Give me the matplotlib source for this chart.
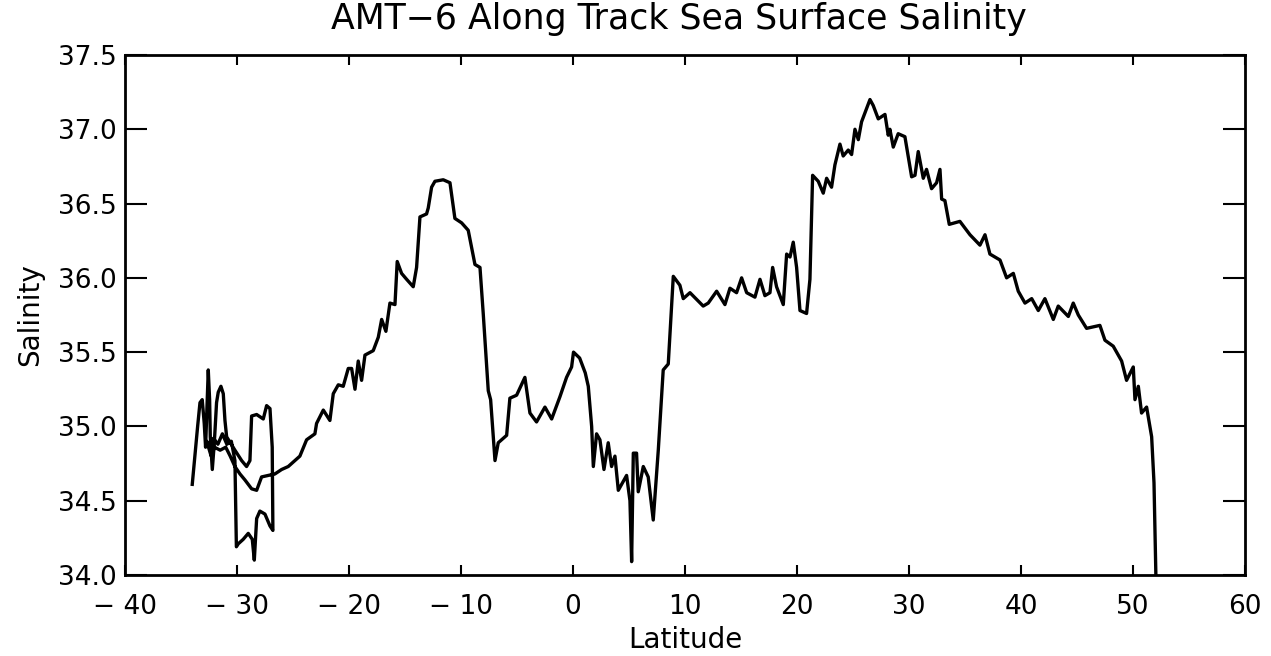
import matplotlib
matplotlib.use("Agg")
import matplotlib.pyplot as plt

# Along-track sea surface salinity, AMT-6 (ship track order)
latitude = [
    -33.99, -33.51, -33.30, -33.10, -32.92, -32.80, -32.68, -32.56, -32.44, -32.38,
    -32.20, -32.02, -31.82, -31.67, -31.43, -31.22, -31.07, -30.92,
    -30.18, -29.58, -29.14, -28.84, -28.69, -28.24, -27.65, -27.35, -27.05, -26.85, -26.79,
    -27.05, -27.50, -27.95, -28.24, -28.45, -28.63, -28.99, -29.44, -29.88, -30.05,
    -30.18, -30.50, -30.90, -31.30, -31.70, -32.10, -32.40, -32.70,
    -32.30, -32.00, -31.50, -31.00, -30.60, -30.18,
    -29.73, -29.29, -28.69, -28.24, -27.80, -27.20, -26.61, -26.01, -25.42, -24.97,
    -24.38, -23.78, -23.04, -22.89, -22.29, -21.70, -21.40, -20.95, -20.51, -20.06,
    -19.76, -19.46, -19.17, -18.87, -18.57, -17.83, -17.38, -17.08, -16.70, -16.34,
    -15.89, -15.69, -15.30, -14.85, -14.26, -13.96, -13.66, -13.07, -12.92, -12.62,
    -12.32, -11.58, -10.98, -10.54, -9.94, -9.35, -8.75, -8.30, -8.01, -7.56,
    -7.35, -6.96, -6.67, -5.92, -5.63, -5.03, -4.29, -3.84, -3.25, -2.50,
    -1.90, -1.16, -0.57, -0.12, 0.05, 0.60, 1.10, 1.37, 1.67, 1.82,
    2.11, 2.41, 2.77, 3.15, 3.45, 3.75, 4.05, 4.79, 5.09, 5.24,
    5.39, 5.68, 5.83, 6.28, 6.72, 7.17, 7.62, 8.06, 8.51, 8.96,
    9.55, 9.85, 10.45, 11.63, 12.08, 12.83, 13.57, 14.02, 14.61, 15.06,
    15.51, 16.25, 16.70, 17.14, 17.59, 17.83, 18.18, 18.78, 19.08, 19.38,
    19.67, 19.97, 20.27, 20.86, 21.16, 21.40, 21.90, 22.35, 22.65, 23.09,
    23.39, 23.84, 24.13, 24.58, 24.88, 25.18, 25.48, 25.77, 26.52, 26.81,
    27.26, 27.86, 28.15, 28.30, 28.60, 29.04, 29.64, 30.24, 30.54, 30.83,
    31.28, 31.57, 32.02, 32.47, 32.77, 32.92, 33.21, 33.60, 34.55, 35.45,
    36.34, 36.79, 37.23, 38.13, 38.72, 39.32, 39.76, 40.36, 40.96, 41.55,
    42.14, 42.89, 43.33, 44.23, 44.67, 45.12, 45.86, 47.05, 47.50, 48.24,
    48.99, 49.43, 50.03, 50.18, 50.48, 50.77, 51.22, 51.67, 51.88, 52.05,
]
salinity = [
    34.61, 35.00, 35.16, 35.18, 35.02, 34.86, 35.11, 35.38, 35.18, 34.93,
    34.71, 34.89, 35.16, 35.23, 35.27, 35.22, 35.04, 34.93,
    34.84, 34.77, 34.73, 34.77, 35.07, 35.08, 35.05, 35.14, 35.12, 34.86, 34.30,
    34.33, 34.41, 34.43, 34.38, 34.10, 34.24, 34.28, 34.24, 34.21, 34.19,
    34.77, 34.90, 34.88, 34.95, 34.88, 34.92, 34.85, 34.90,
    34.80, 34.86, 34.84, 34.86, 34.80, 34.73,
    34.68, 34.64, 34.58, 34.57, 34.66, 34.67, 34.68, 34.71, 34.73, 34.76,
    34.80, 34.91, 34.95, 35.02, 35.11, 35.04, 35.22, 35.28, 35.27, 35.39,
    35.39, 35.25, 35.44, 35.31, 35.48, 35.51, 35.60, 35.72, 35.64, 35.83,
    35.82, 36.11, 36.03, 35.99, 35.94, 36.07, 36.41, 36.43, 36.47, 36.61,
    36.65, 36.66, 36.64, 36.40, 36.37, 36.32, 36.09, 36.07, 35.76, 35.24,
    35.18, 34.77, 34.89, 34.94, 35.19, 35.21, 35.33, 35.09, 35.03, 35.13,
    35.05, 35.20, 35.33, 35.40, 35.50, 35.46, 35.36, 35.27, 35.00, 34.73,
    34.95, 34.91, 34.71, 34.89, 34.73, 34.80, 34.57, 34.67, 34.50, 34.09,
    34.82, 34.82, 34.56, 34.73, 34.66, 34.37, 34.84, 35.38, 35.42, 36.01,
    35.95, 35.86, 35.90, 35.81, 35.83, 35.91, 35.82, 35.93, 35.90, 36.00,
    35.90, 35.87, 35.99, 35.88, 35.90, 36.07, 35.94, 35.82, 36.16, 36.14,
    36.24, 36.07, 35.78, 35.76, 35.99, 36.69, 36.65, 36.57, 36.67, 36.61,
    36.76, 36.90, 36.82, 36.86, 36.83, 37.00, 36.93, 37.05, 37.20, 37.16,
    37.07, 37.10, 36.96, 37.00, 36.88, 36.97, 36.95, 36.68, 36.69, 36.85,
    36.67, 36.73, 36.60, 36.64, 36.73, 36.53, 36.52, 36.36, 36.38, 36.29,
    36.22, 36.29, 36.16, 36.12, 36.00, 36.03, 35.91, 35.83, 35.86, 35.78,
    35.86, 35.72, 35.81, 35.74, 35.83, 35.75, 35.66, 35.68, 35.58, 35.54,
    35.44, 35.31, 35.40, 35.18, 35.27, 35.09, 35.13, 34.93, 34.62, 33.99,
]

x_ticks = [-40, -30, -20, -10, 0, 10, 20, 30, 40, 50, 60]
y_ticks = [34.0, 34.5, 35.0, 35.5, 36.0, 36.5, 37.0, 37.5]

plt.rcParams["font.family"] = ["DejaVu Sans"]
plt.rcParams["axes.unicode_minus"] = True

fig = plt.figure(figsize=(12.71, 6.56), dpi=100)
ax = fig.add_axes([0.0983, 0.1235, 0.8812, 0.7927])

ax.plot(latitude, salinity, color="black", linewidth=2.4, solid_joinstyle="round")

ax.set_xlim(-40, 60)
ax.set_ylim(34.0, 37.5)
ax.set_xticks(x_ticks)
ax.set_yticks(y_ticks)
ax.set_xticklabels([str(v).replace("-", "\u2212 ") for v in x_ticks])
ax.set_yticklabels([f"{v:.1f}" for v in y_ticks])

ax.tick_params(axis="x", direction="in", length=7, width=1.5, top=True,
               labelsize=19, pad=14)
ax.tick_params(axis="y", direction="in", length=16, width=1.5, right=True,
               labelsize=19, pad=6)
for s in ax.spines.values():
    s.set_linewidth(2.0)

fig.text(0.534, 1 - 19 / 656, "AMT\u22126 Along Track Sea Surface Salinity",
         fontsize=25, ha="center", va="center")
ax.set_xlabel("Latitude", fontsize=20, labelpad=4)
ax.set_ylabel("Salinity", fontsize=20, labelpad=10)

fig.savefig("out.png", dpi=100)
